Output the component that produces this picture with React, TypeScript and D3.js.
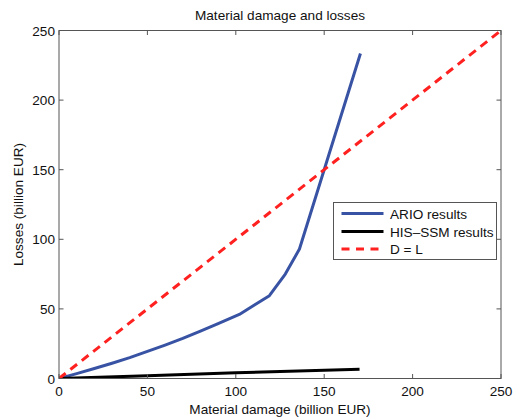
import React from "react";
import * as d3 from "d3";

const arioX = [0, 10, 20, 30, 40, 50, 60, 70, 80, 90, 102, 119, 128, 136, 170.5];
const arioY = [0, 3.5, 7.2, 11, 15, 19.5, 24, 28.8, 34, 39.5, 46, 59.5, 75, 93, 233.5];
const hisX = [0, 50, 100, 170];
const hisY = [0, 2, 4.1, 6.6];
const dlX = [0, 250];
const dlY = [0, 250];
const xTicks = [0, 50, 100, 150, 200, 250];
const yTicks = [0, 50, 100, 150, 200, 250];
const legendLabels = ["ARIO results", "HIS\u2013SSM results", "D = L"];

const W = 513, H = 417;
const L = 59, R = 501, T = 30.5, B = 378.5;
const FONT = "'Liberation Sans', Arial, Helvetica, sans-serif";
const FS = 13.6;

export default function App() {
  const x = d3.scaleLinear().domain([0, 250]).range([L, R]);
  const y = d3.scaleLinear().domain([0, 250]).range([B, T]);
  const line = d3.line<[number, number]>().x(d => x(d[0])).y(d => y(d[1]));
  const zip = (a: number[], b: number[]) => a.map((v, i) => [v, b[i]] as [number, number]);
  const series = [
    { d: zip(arioX, arioY), color: "#3953a4", dash: undefined },
    { d: zip(hisX, hisY), color: "#000000", dash: undefined },
    { d: zip(dlX, dlY), color: "#ff2020", dash: "8.5,6" },
  ];
  const tick = 4.5;
  const axisColor = "#555";
  const lg = { x: 333.5, y: 202.5, w: 163, h: 57 };
  const rowY = [213.5, 231.5, 249];
  return (
    <svg width={W} height={H} style={{ position: "absolute", left: 0, top: 0, background: "#fff" }}>
      <defs>
        <clipPath id="plot"><rect x={L} y={T} width={R - L} height={B - T} /></clipPath>
      </defs>
      <g clipPath="url(#plot)">
        {series.map((s, i) => (
          <path key={i} d={line(s.d) || ""} fill="none" stroke={s.color} strokeWidth={3}
            strokeDasharray={s.dash} strokeLinejoin="round" />
        ))}
      </g>
      <rect x={L} y={T} width={R - L} height={B - T} fill="none" stroke={axisColor} strokeWidth={1} />
      {xTicks.map(t => (
        <g key={"x" + t}>
          <line x1={x(t)} x2={x(t)} y1={B} y2={B - tick} stroke={axisColor} />
          <line x1={x(t)} x2={x(t)} y1={T} y2={T + tick} stroke={axisColor} />
          <text x={x(t)} y={395.5} textAnchor="middle" fontFamily={FONT} fontSize={FS} fill="#111">{t}</text>
        </g>
      ))}
      {yTicks.map(t => (
        <g key={"y" + t}>
          <line x1={L} x2={L + tick} y1={y(t)} y2={y(t)} stroke={axisColor} />
          <line x1={R} x2={R - tick} y1={y(t)} y2={y(t)} stroke={axisColor} />
          <text x={55} y={y(t) + 5} textAnchor="end" fontFamily={FONT} fontSize={FS} fill="#111">{t}</text>
        </g>
      ))}
      <text x={280} y={19.5} textAnchor="middle" fontFamily={FONT} fontSize={FS} fill="#111">Material damage and losses</text>
      <text x={280} y={413.5} textAnchor="middle" fontFamily={FONT} fontSize={FS} fill="#111">Material damage (billion EUR)</text>
      <text transform={`translate(22.5,${(T + B) / 2}) rotate(-90)`} textAnchor="middle" fontFamily={FONT} fontSize={FS} fill="#111">Losses (billion EUR)</text>
      <rect x={lg.x} y={lg.y} width={lg.w} height={lg.h} fill="#fff" stroke={axisColor} strokeWidth={1} />
      {series.map((s, i) => (
        <g key={"l" + i}>
          <line x1={341.5} x2={383.5} y1={rowY[i]} y2={rowY[i]} stroke={s.color} strokeWidth={3}
            strokeDasharray={s.dash ? "8,6.5" : undefined} />
          <text x={390} y={rowY[i] + 5} fontFamily={FONT} fontSize={FS} fill="#111">{legendLabels[i]}</text>
        </g>
      ))}
    </svg>
  );
}
